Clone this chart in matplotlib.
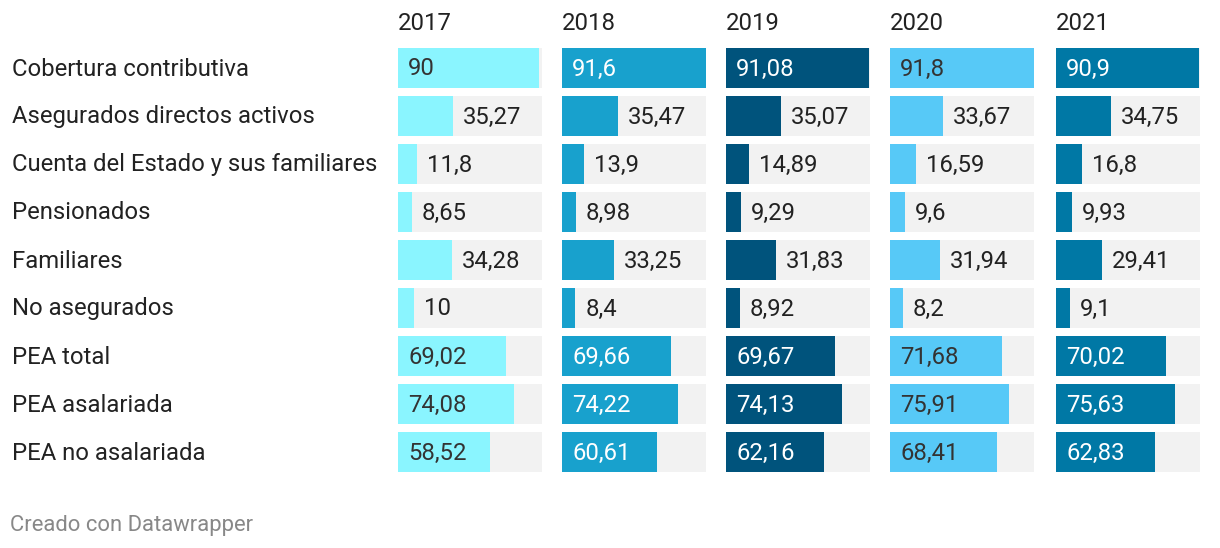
import matplotlib
matplotlib.use("Agg")
import matplotlib.pyplot as plt

categories = ["Cobertura contributiva", "Asegurados directos activos",
              "Cuenta del Estado y sus familiares", "Pensionados", "Familiares",
              "No asegurados", "PEA total", "PEA asalariada", "PEA no asalariada"]
years = ["2017", "2018", "2019", "2020", "2021"]
v2017 = [90, 35.27, 11.8, 8.65, 34.28, 10, 69.02, 74.08, 58.52]
v2018 = [91.6, 35.47, 13.9, 8.98, 33.25, 8.4, 69.66, 74.22, 60.61]
v2019 = [91.08, 35.07, 14.89, 9.29, 31.83, 8.92, 69.67, 74.13, 62.16]
v2020 = [91.8, 33.67, 16.59, 9.6, 31.94, 8.2, 71.68, 75.91, 68.41]
v2021 = [90.9, 34.75, 16.8, 9.93, 29.41, 9.1, 70.02, 75.63, 62.83]
series = [v2017, v2018, v2019, v2020, v2021]
colors = ["#8af5ff", "#18a1cd", "#00537c", "#57c9f7", "#0078a5"]
inside_text = ["#333333", "#ffffff", "#ffffff", "#333333", "#ffffff"]

plt.rcParams['font.family'] = ['Roboto', 'DejaVu Sans']
W, H = 1220, 548
fig = plt.figure(figsize=(W / 100, H / 100), dpi=100)
fig.patch.set_facecolor("white")

FS = 17.2
xmax = max(max(s) for s in series)
n = len(categories)
panel_left = [398, 562, 726, 890, 1056]
panel_w = 144
top, pitch, bh = 48, 48, 40
bottom = top + pitch * (n - 1) + bh

def fx(px):
    return px / W

def fy(py):
    return 1 - py / H

for k, (vals, col) in enumerate(zip(series, colors)):
    ax = fig.add_axes([fx(panel_left[k]), fy(bottom), panel_w / W, (bottom - top) / H])
    ax.set_xlim(0, xmax)
    hf = bh / pitch
    ax.set_ylim(n - 1 + hf / 2, -hf / 2)
    ax.axis("off")
    ys = list(range(n))
    ax.barh(ys, [xmax] * n, height=hf, color="#f2f2f2", linewidth=0)
    ax.barh(ys, vals, height=hf, color=col, linewidth=0)
    for y, v in zip(ys, vals):
        lab = f"{v:g}".replace(".", ",")
        if v > 50:
            ax.annotate(lab, (0, y), xytext=(10, -1), textcoords="offset pixels",
                        ha="left", va="center", fontsize=FS, color=inside_text[k])
        else:
            ax.annotate(lab, (v, y), xytext=(10, -1), textcoords="offset pixels",
                        ha="left", va="center", fontsize=FS, color="#222222")
    fig.text(fx(panel_left[k]), fy(23), years[k], ha="left", va="center",
             fontsize=FS, color="#222222")

for i, c in enumerate(categories):
    fig.text(fx(12), fy(top + bh / 2 + pitch * i + 1), c, ha="left", va="center",
             fontsize=FS, color="#222222")

fig.text(fx(10), fy(526), "Creado con Datawrapper", ha="left", va="center",
         fontsize=15.8, color="#888888")

fig.savefig("out.png", dpi=100, facecolor="white")
